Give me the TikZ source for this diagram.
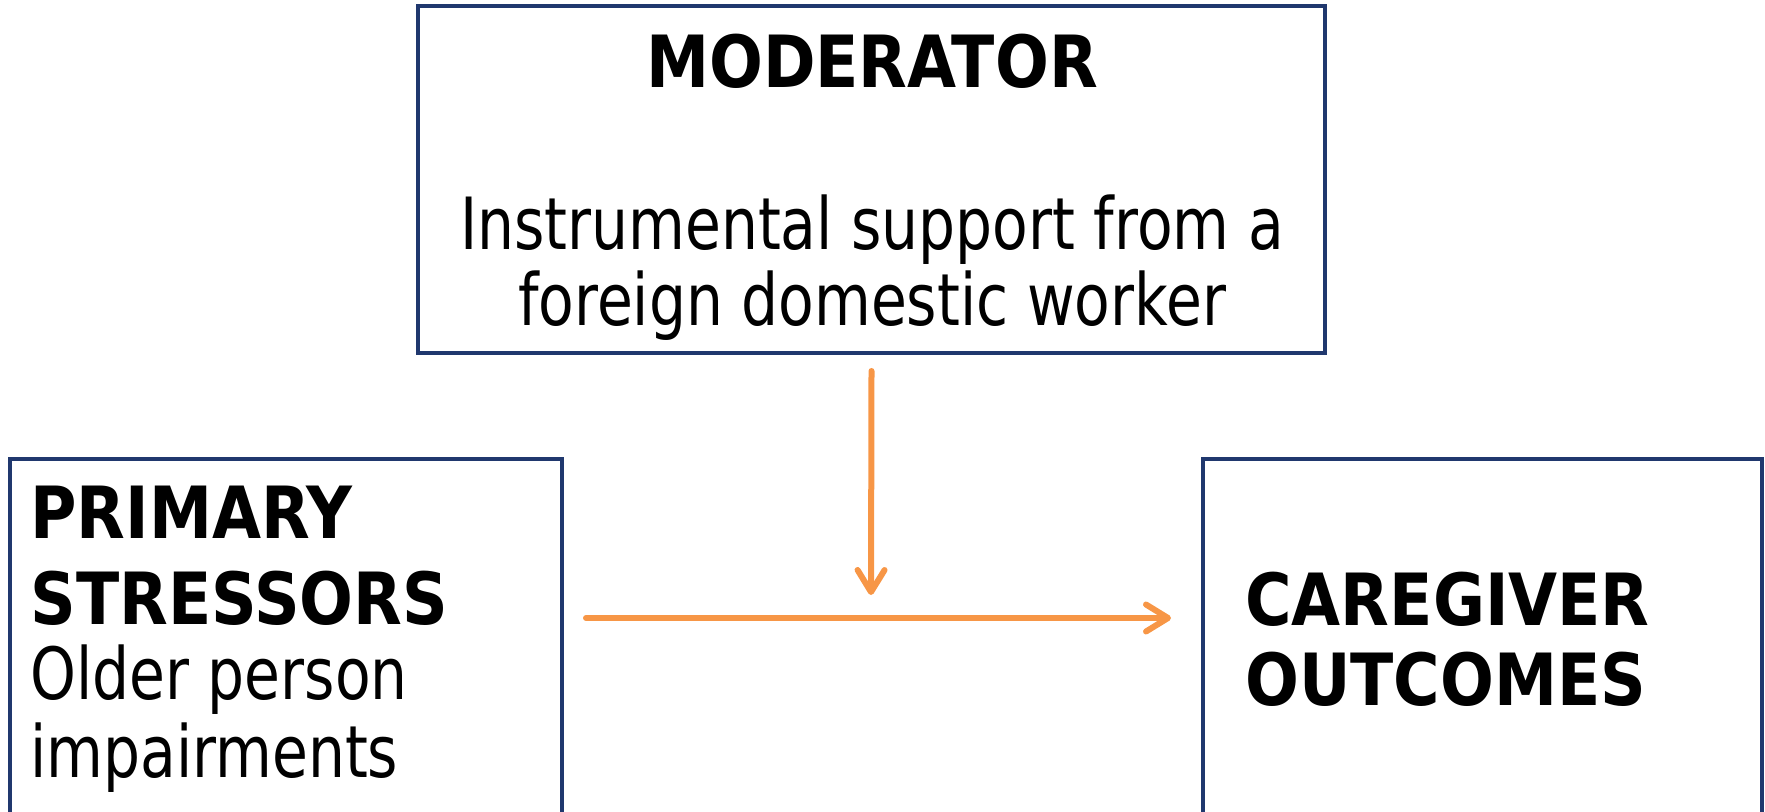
\documentclass[tikz,border=0pt]{standalone}
\usepackage{fontspec}
\newfontfamily\regf{DejaVu Sans}[FakeStretch=0.81]
\newfontfamily\boldf{DejaVu Sans}[FakeStretch=0.88]
\usetikzlibrary{arrows.meta}
\definecolor{boxnavy}{RGB}{32,56,110}
\definecolor{arrorange}{RGB}{247,150,70}
\begin{document}
\begin{tikzpicture}[x=0.5pt,y=-0.5pt,
  box/.style={draw=boxnavy, line width=2pt, fill=none, inner sep=0pt},
  link/.style={draw=arrorange, line width=3pt, line cap=round, line join=round,
    -{Straight Barb[length=11pt,width=13.5pt,round]}},
  title/.style={inner sep=0pt, font={\boldf\bfseries\fontsize{36}{40}\selectfont}},
  body/.style={inner sep=0pt, font={\regf\fontsize{36}{40}\selectfont}}]
\useasboundingbox (0,0) rectangle (1765,812);
% boxes
\node[box, minimum width=453.5pt, minimum height=173.5pt] (mod) at (871.5,179.5) {};
\node[box, minimum width=276pt, minimum height=186pt] (ps) at (286,645) {};
\node[box, minimum width=279.5pt, minimum height=186pt] (co) at (1482.5,645) {};
% texts
\node[title, anchor=base] (modt) at (872,88) {MODERATOR};
\node[body, anchor=base] (modl1) at (872,250) {Instrumental support from a};
\node[body, anchor=base] (modl2) at (872,326) {foreign domestic worker};
\node[title, anchor=base west] (pst1) at (30,538) {PRIMARY};
\node[title, anchor=base west] (pst2) at (30,624) {STRESSORS};
\node[body, anchor=base west] (psl1) at (30,699) {Older person};
\node[body, anchor=base west] (psl2) at (30,777) {impairments};
\node[title, anchor=base west] (cot1) at (1245,625) {CAREGIVER};
\node[title, anchor=base west] (cot2) at (1245,705) {OUTCOMES};
% connectors
\coordinate (join) at (871,618);
\draw[link] ([xshift=11pt]ps.east |- join) -- ([xshift=-15pt]co.west |- join);
\draw[link] ([yshift=-8pt]mod.south) -- ([yshift=11.5pt]join);
\end{tikzpicture}
\end{document}
